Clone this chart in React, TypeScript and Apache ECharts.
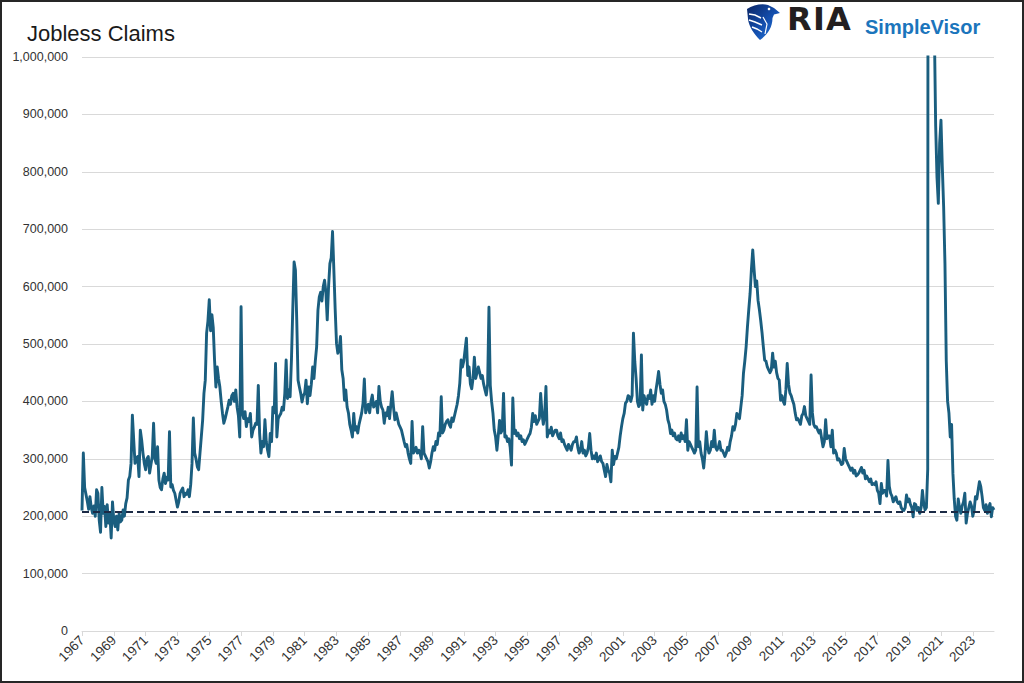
import React, { useEffect, useRef } from "react";
import * as echarts from "echarts";

// ---- Data (weekly initial jobless claims, read approximately per month, in thousands) ----
const startYear = 1967;
const claims1960s = [
  210, 310, 250, 238, 226, 212, 234, 215, 205, 218, 200, 246,
  240, 193, 172, 250, 205, 217, 182, 220, 188, 205, 162, 225,
  193, 182, 200, 176, 205, 190, 193, 211, 200, 222, 232, 263,
];
const claims1970s = [
  269, 292, 376, 333, 292, 300, 304, 269, 350, 333, 310, 292,
  281, 300, 304, 275, 290, 304, 362, 300, 292, 321, 263, 250,
  246, 265, 275, 257, 268, 263, 347, 251, 255, 245, 240, 228,
  216, 225, 240, 245, 249, 234, 240, 238, 246, 234, 255, 292,
  371, 310, 300, 286, 281, 310, 338, 367, 414, 437, 519, 540,
  577, 523, 551, 529, 472, 425, 460, 440, 425, 400, 379, 362,
  370, 380, 390, 402, 395, 410, 414, 400, 420, 390, 375, 338,
  565, 379, 370, 382, 356, 370, 365, 379, 338, 350, 355, 362,
  360, 428, 344, 310, 330, 321, 368, 330, 315, 304, 344, 330,
  390, 380, 466, 338, 370, 375, 379, 390, 385, 414, 472, 405,
];
const claims1980s = [
  420, 408, 472, 560, 643, 629, 542, 437, 425, 414, 399, 410,
  415, 437, 396, 425, 410, 430, 460, 440, 470, 495, 559, 582,
  590, 575, 600, 611, 590, 542, 600, 640, 650, 696, 629, 560,
  501, 484, 490, 513, 455, 440, 402, 420, 390, 380, 360, 350,
  338, 379, 350, 356, 345, 360, 370, 380, 397, 439, 380, 390,
  395, 380, 400, 411, 390, 395, 400, 380, 426, 400, 390, 385,
  362, 380, 375, 390, 370, 395, 417, 390, 368, 380, 370, 360,
  355, 350, 340, 330, 321, 325, 310, 300, 292, 365, 310, 315,
  320, 310, 315, 310, 300, 356, 310, 305, 300, 295, 284, 295,
  310, 321, 315, 330, 325, 345, 340, 408, 345, 350, 360, 365,
];
const claims1990s = [
  368, 360, 355, 371, 365, 375, 385, 395, 410, 432, 472, 460,
  470, 490, 510, 445, 460, 430, 422, 440, 477, 440, 450, 460,
  450, 440, 445, 430, 420, 411, 430, 564, 428, 400, 380, 350,
  338, 315, 340, 367, 345, 350, 414, 338, 340, 330, 335, 320,
  289, 406, 344, 350, 340, 345, 335, 340, 330, 333, 325, 330,
  335, 340, 344, 355, 379, 365, 375, 360, 365, 370, 414, 380,
  360, 375, 426, 338, 350, 345, 355, 340, 345, 350, 350, 340,
  335, 345, 330, 333, 325, 320, 315, 325, 320, 315, 325, 330,
  330, 338, 320, 310, 315, 330, 310, 315, 305, 310, 320, 344,
  315, 300, 305, 300, 310, 295, 300, 305, 295, 292, 280, 269,
];
const claims2000s = [
  290, 280, 275, 260, 315, 290, 304, 300, 310, 320, 340, 356,
  370, 379, 397, 400, 410, 408, 400, 410, 519, 470, 440, 400,
  391, 395, 481, 385, 410, 400, 395, 410, 405, 420, 395, 410,
  400, 420, 435, 452, 430, 414, 420, 400, 395, 385, 368, 360,
  344, 350, 340, 345, 335, 333, 340, 330, 345, 335, 340, 330,
  368, 315, 330, 325, 320, 315, 310, 315, 425, 321, 330, 310,
  300, 284, 310, 347, 320, 310, 315, 330, 321, 350, 320, 315,
  320, 330, 315, 315, 310, 304, 310, 320, 315, 330, 340, 356,
  350, 360, 379, 375, 370, 390, 410, 449, 470, 495, 530, 560,
  588, 630, 664, 630, 600, 610, 576, 560, 541, 520, 495, 472,
];
const claims2010s = [
  470, 460, 455, 450, 455, 484, 460, 470, 450, 440, 437, 402,
  410, 400, 395, 420, 466, 430, 415, 410, 402, 395, 380, 368,
  370, 365, 360, 375, 379, 391, 375, 370, 365, 360, 446, 380,
  360, 355, 356, 350, 345, 350, 335, 321, 330, 368, 335, 340,
  340, 321, 350, 310, 315, 310, 298, 300, 295, 290, 292, 318,
  300, 295, 290, 285, 280, 284, 275, 280, 270, 272, 275, 280,
  285, 275, 280, 265, 270, 265, 260, 265, 255, 257, 255, 260,
  245, 240, 222, 257, 240, 245, 245, 235, 297, 252, 240, 235,
  225, 230, 234, 225, 222, 225, 215, 211, 210, 215, 237, 225,
  230, 220, 215, 199, 222, 220, 210, 215, 205, 215, 245, 222,
];
const claims2020s = [
  211, 215, 282, 4800, 2900, 1500, 1400, 1050, 880, 790, 745, 850,
  890, 809, 740, 640, 470, 400, 380, 338, 360, 275, 230, 200,
  193, 230, 215, 205, 218, 225, 240, 188, 205, 215, 225, 218,
  200, 210, 234, 230, 245, 260, 252, 235, 215, 210, 220, 205,
  215, 222, 199, 215, 211,
];
const referenceLevel = 208000;
const titleText = "Jobless Claims";
const seriesName = "Initial Jobless Claims";

const allClaims = [
  ...claims1960s,
  ...claims1970s,
  ...claims1980s,
  ...claims1990s,
  ...claims2000s,
  ...claims2010s,
  ...claims2020s,
].map((v) => v * 1000);

const monthLabels = allClaims.map((_, i) => {
  const y = startYear + Math.floor(i / 12);
  const m = (i % 12) + 1;
  return `${y}-${m < 10 ? "0" + m : m}`;
});

// ---- Logo shape ----
const eagleD =
  "M2 6 C8 2 17 0 23 2 L29 5 L35 10 L29 11.5 L27.5 15 C27.5 25 22 32 15 37 C9 31 4 24 3 16 Z";
let registered = false;
function ensureShapes() {
  if (registered) return;
  registered = true;
  echarts.graphic.registerShape("riaEagle", echarts.graphic.extendPath(eagleD, {}));
}

const FONT = "'Liberation Sans', Arial, Helvetica, sans-serif";
const LOGO_FONT = "'DejaVu Sans', " + FONT;

export default function App() {
  const ref = useRef<HTMLDivElement>(null);

  useEffect(() => {
    if (!ref.current) return;
    ensureShapes();
    const chart = echarts.init(ref.current, undefined, { renderer: "svg" });
    const everyTwoYears = (index: number) => index % 24 === 0;
    const eagleFill = new echarts.graphic.LinearGradient(0, 0, 1, 1, [
      { offset: 0, color: "#0a2463" },
      { offset: 0.55, color: "#1450b0" },
      { offset: 1, color: "#2a7de0" },
    ]);

    chart.setOption({
      animation: false,
      backgroundColor: "#ffffff",
      title: {
        text: titleText,
        left: 22,
        top: 17,
        textStyle: {
          fontFamily: FONT,
          fontSize: 22,
          fontWeight: "normal",
          color: "#1a1a1a",
        },
      },
      grid: { left: 82, right: 30, top: 57, bottom: 52, outerBoundsMode: "none" },
      xAxis: {
        type: "category",
        data: monthLabels,
        boundaryGap: false,
        axisLine: { lineStyle: { color: "#d9d9d9", width: 1 } },
        axisTick: {
          show: true,
          interval: everyTwoYears,
          length: 5,
          lineStyle: { color: "#d9d9d9" },
        },
        axisLabel: {
          interval: everyTwoYears,
          rotate: 45,
          formatter: (v: string) => v.slice(0, 4),
          fontSize: 13.5,
          color: "#333333",
          margin: 7,
          fontFamily: FONT,
        },
        splitLine: { show: false },
      },
      yAxis: {
        type: "value",
        min: 0,
        max: 1000000,
        interval: 100000,
        axisLine: { show: false },
        axisTick: { show: false },
        axisLabel: {
          formatter: (v: number) => String(v).replace(/\B(?=(\d{3})+(?!\d))/g, ","),
          fontSize: 12.5,
          color: "#333333",
          margin: 14,
          fontFamily: FONT,
        },
        splitLine: { lineStyle: { color: "#d9d9d9", width: 1 } },
      },
      series: [
        {
          type: "line",
          name: seriesName,
          data: allClaims,
          showSymbol: false,
          symbol: "none",
          clip: true,
          lineStyle: { color: "#1a5e7f", width: 2.9, join: "round" },
          markLine: {
            silent: true,
            symbol: ["none", "none"],
            label: { show: false },
            lineStyle: { color: "#1b2a45", type: [7, 4], width: 2.2 },
            data: [{ yAxis: referenceLevel }],
          },
        },
      ],
      graphic: [
        {
          type: "rect",
          silent: true,
          z: 100,
          shape: { x: 1, y: 1, width: 1022, height: 681 },
          style: { fill: "none", stroke: "#262626", lineWidth: 2 },
        },
        {
          type: "group",
          x: 745,
          y: 3,
          children: [
            { type: "riaEagle", x: 0, y: 0, style: { fill: eagleFill } },
            {
              type: "polyline",
              shape: { points: [[4, 11], [10, 12], [16, 15]] },
              style: { stroke: "#ffffff", lineWidth: 1.4, fill: "none" },
            },
            {
              type: "polyline",
              shape: { points: [[4, 17], [10, 19], [17, 22]] },
              style: { stroke: "#ffffff", lineWidth: 1.4, fill: "none" },
            },
            {
              type: "polyline",
              shape: { points: [[7, 24], [12, 26], [17, 29]] },
              style: { stroke: "#ffffff", lineWidth: 1.4, fill: "none" },
            },
            {
              type: "polyline",
              shape: { points: [[18, 14], [22, 21], [20, 31]] },
              style: { stroke: "#ffffff", lineWidth: 1.2, fill: "none" },
            },
            { type: "circle", shape: { cx: 24, cy: 6, r: 1.3 }, style: { fill: "#ffffff" } },
          ],
        },
        {
          type: "text",
          x: 787,
          y: 35,
          style: {
            text: "R",
            fontFamily: LOGO_FONT,
            fontWeight: "bold",
            fontSize: 32,
            fill: "#231f20",
            verticalAlign: "bottom",
          },
        },
        {
          type: "text",
          x: 813,
          y: 35,
          style: {
            text: "I",
            fontFamily: LOGO_FONT,
            fontWeight: "bold",
            fontSize: 32,
            fill: "#231f20",
            verticalAlign: "bottom",
          },
        },
        {
          type: "text",
          x: 826,
          y: 35,
          style: {
            text: "A",
            fontFamily: LOGO_FONT,
            fontWeight: "bold",
            fontSize: 32,
            fill: "#231f20",
            verticalAlign: "bottom",
          },
        },
        {
          type: "text",
          x: 865,
          y: 37,
          style: {
            text: "SimpleVisor",
            fontFamily: FONT,
            fontWeight: "bold",
            fontSize: 20,
            fill: "#1b75bc",
            verticalAlign: "bottom",
          },
        },
      ],
    });

    return () => {
      chart.dispose();
    };
  }, []);

  return (
    <div
      ref={ref}
      style={{
        position: "fixed",
        left: 0,
        top: 0,
        width: 1024,
        height: 683,
        background: "#ffffff",
      }}
    />
  );
}
